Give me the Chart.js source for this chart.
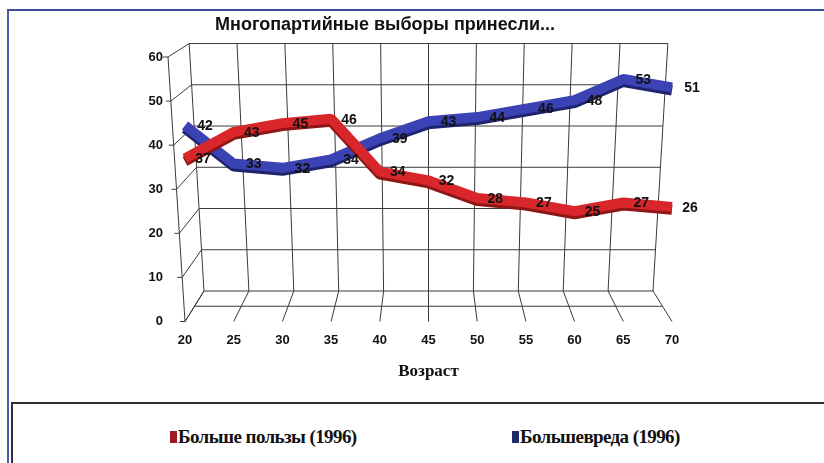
<!DOCTYPE html>
<html lang="ru">
<head>
<meta charset="utf-8">
<title>Многопартийные выборы принесли...</title>
<script src="https://cdn.jsdelivr.net/npm/chart.js@4.4.1/dist/chart.umd.min.js"></script>
<style>
    html, body { margin: 0; padding: 0; background: #fff; }
    #page { position: relative; width: 824px; height: 463px; overflow: hidden; background: #fff; }
    #frame { position: absolute; left: 7px; top: 9px; width: 900px; height: 500px;
             border-top: 2px solid #3c4f9f; border-left: 2px solid #4a5cb0; }
    #chartBox { position: absolute; left: 0; top: 0; width: 824px; height: 400px; }
    #legend { position: absolute; left: 11px; top: 402px; width: 900px; height: 100px;
              border-top: 2px solid #2e2e38; border-left: 2px solid #2e2e38; background: #fff; }
    .item { position: absolute; top: 22px; font: bold 19px "Liberation Serif", serif;
            letter-spacing: -0.6px; color: #111; white-space: nowrap; }
    .mark { display: inline-block; width: 7px; height: 12px; margin-right: 1px; vertical-align: 0px; }
</style>
</head>
<body>
<div id="page">
    <div id="frame"></div>
    <div id="chartBox"><canvas id="myChart" width="824" height="400"></canvas></div>
    <div id="legend">
        <div class="item" style="left:157px"><span class="mark" style="background:#9b1b24"></span><span id="leg0"></span></div>
        <div class="item" style="left:499px"><span class="mark" style="background:#1f2a66"></span><span id="leg1"></span></div>
    </div>
</div>
<script>
const ages = [20, 25, 30, 35, 40, 45, 50, 55, 60, 65, 70];
const benefit = [37, 43, 45, 46, 34, 32, 28, 27, 25, 27, 26];
const harm = [42, 33, 32, 34, 39, 43, 44, 46, 48, 53, 51];
const yTicks = [0, 10, 20, 30, 40, 50, 60];
const seriesNames = ['Больше пользы (1996)', 'Большевреда (1996)'];
const titleText = 'Многопартийные выборы принесли...';
const axisTitle = 'Возраст';

document.getElementById('leg0').textContent = seriesNames[0];
document.getElementById('leg1').textContent = seriesNames[1];

// back wall / floor of the pseudo 3D box, built from the scales
const wallPlugin = {
    id: 'wall',
    beforeDatasetsDraw(chart) {
        const x = chart.scales.x, y = chart.scales.y, ctx = chart.ctx;
        const cx = (x.left + x.right) / 2;
        const backX = (fx, v) => cx + (fx - cx) * (0.922 + 0.061 * v / 60);
        const backY = v => y.bottom - 30.5 - (y.bottom - y.getPixelForValue(v)) * 0.9356;
        const frontLeft = v => x.left - 17 * v / 60;
        const line = (a, b, c, d) => { ctx.beginPath(); ctx.moveTo(a, b); ctx.lineTo(c, d); ctx.stroke(); };

        ctx.save();
        ctx.strokeStyle = '#3a3a3a';
        ctx.lineWidth = 1;
        yTicks.forEach(v => {
            line(backX(x.left, v), backY(v), backX(x.right, v), backY(v));
            line(frontLeft(v), y.getPixelForValue(v), backX(x.left, v), backY(v));
            line(frontLeft(v) - 5, y.getPixelForValue(v), frontLeft(v), y.getPixelForValue(v));
        });
        ages.forEach(a => {
            const fx = x.getPixelForValue(a);
            line(backX(fx, 0), backY(0), backX(fx, 60), backY(60));
            line(backX(fx, 0), backY(0), fx, y.bottom);
        });
        const midY = (backY(0) + y.bottom) / 2;
        line((backX(x.left, 0) + x.left) / 2, midY, (backX(x.right, 0) + x.right) / 2, midY);
        line(frontLeft(60), y.top, x.left, y.bottom);
        ctx.restore();
    }
};

// darker side of each ribbon
const ribbonPlugin = {
    id: 'ribbon',
    beforeDatasetDraw(chart, args) {
        const ds = chart.data.datasets[args.index];
        const pts = args.meta.data;
        const ctx = chart.ctx;
        ctx.save();
        ctx.strokeStyle = ds.sideColor;
        ctx.lineWidth = ds.borderWidth;
        ctx.lineJoin = 'bevel';
        ctx.beginPath();
        pts.forEach((p, i) => i ? ctx.lineTo(p.x, p.y + 3) : ctx.moveTo(p.x, p.y + 3));
        ctx.stroke();
        ctx.restore();
    }
};

const labelPlugin = {
    id: 'labels',
    afterDatasetsDraw(chart) {
        const ctx = chart.ctx;
        ctx.save();
        ctx.font = 'bold 14px "Liberation Sans", Arial, sans-serif';
        ctx.fillStyle = '#111';
        ctx.textAlign = 'center';
        ctx.textBaseline = 'middle';
        chart.data.datasets.forEach((ds, i) => {
            chart.getDatasetMeta(i).data.forEach((p, j) => {
                ctx.fillText(ds.data[j].y, p.x + ds.labelShift, p.y + 1);
            });
        });
        ctx.font = 'bold 18px "Liberation Sans", Arial, sans-serif';
        ctx.fillText(titleText, 385, 25);
        ctx.restore();
    }
};

new Chart('myChart', {
    type: 'line',
    data: {
        datasets: [
            {
                label: seriesNames[0],
                data: ages.map((a, i) => ({ x: a, y: benefit[i] })),
                borderColor: '#d8262a',
                sideColor: '#8e1616',
                labelShift: 18,
                borderWidth: 10,
                borderJoinStyle: 'bevel',
                pointRadius: 0,
                clip: false,
                yAxisID: 'y'
            },
            {
                label: seriesNames[1],
                data: ages.map((a, i) => ({ x: a, y: harm[i] })),
                borderColor: '#3a42b4',
                sideColor: '#1e236e',
                labelShift: 20,
                borderWidth: 10,
                borderJoinStyle: 'bevel',
                pointRadius: 0,
                clip: false,
                yAxisID: 'yb'
            }
        ]
    },
    options: {
        responsive: false,
        animation: false,
        layout: { padding: { top: 57, right: 152, left: 0, bottom: 0 } },
        plugins: {
            legend: { display: false },
            tooltip: { enabled: false }
        },
        scales: {
            x: {
                type: 'linear',
                min: 20,
                max: 70,
                afterBuildTicks: s => { s.ticks = ages.map(v => ({ value: v })); },
                afterFit: s => { s.height = 78.5; },
                grid: { display: false, drawTicks: false },
                border: { display: false },
                ticks: {
                    padding: 11,
                    color: '#111',
                    font: { family: '"Liberation Sans", Arial, sans-serif', size: 13, weight: 'bold' }
                },
                title: {
                    display: true,
                    text: axisTitle,
                    color: '#111',
                    padding: { top: 4, bottom: 18 },
                    font: { family: '"Liberation Serif", serif', size: 17, weight: 'bold' }
                }
            },
            y: {
                min: 0,
                max: 60,
                afterBuildTicks: s => { s.ticks = yTicks.map(v => ({ value: v })); },
                afterFit: s => { s.width = 185; },
                grid: { display: false, drawTicks: false },
                border: { display: false },
                ticks: {
                    padding: 22,
                    color: '#111',
                    font: { family: '"Liberation Sans", Arial, sans-serif', size: 13, weight: 'bold' }
                }
            },
            // the back series sits deeper in the 3D box
            yb: {
                display: false,
                min: -4.33,
                max: 58.2
            }
        }
    },
    plugins: [wallPlugin, ribbonPlugin, labelPlugin]
});
</script>
</body>
</html>
